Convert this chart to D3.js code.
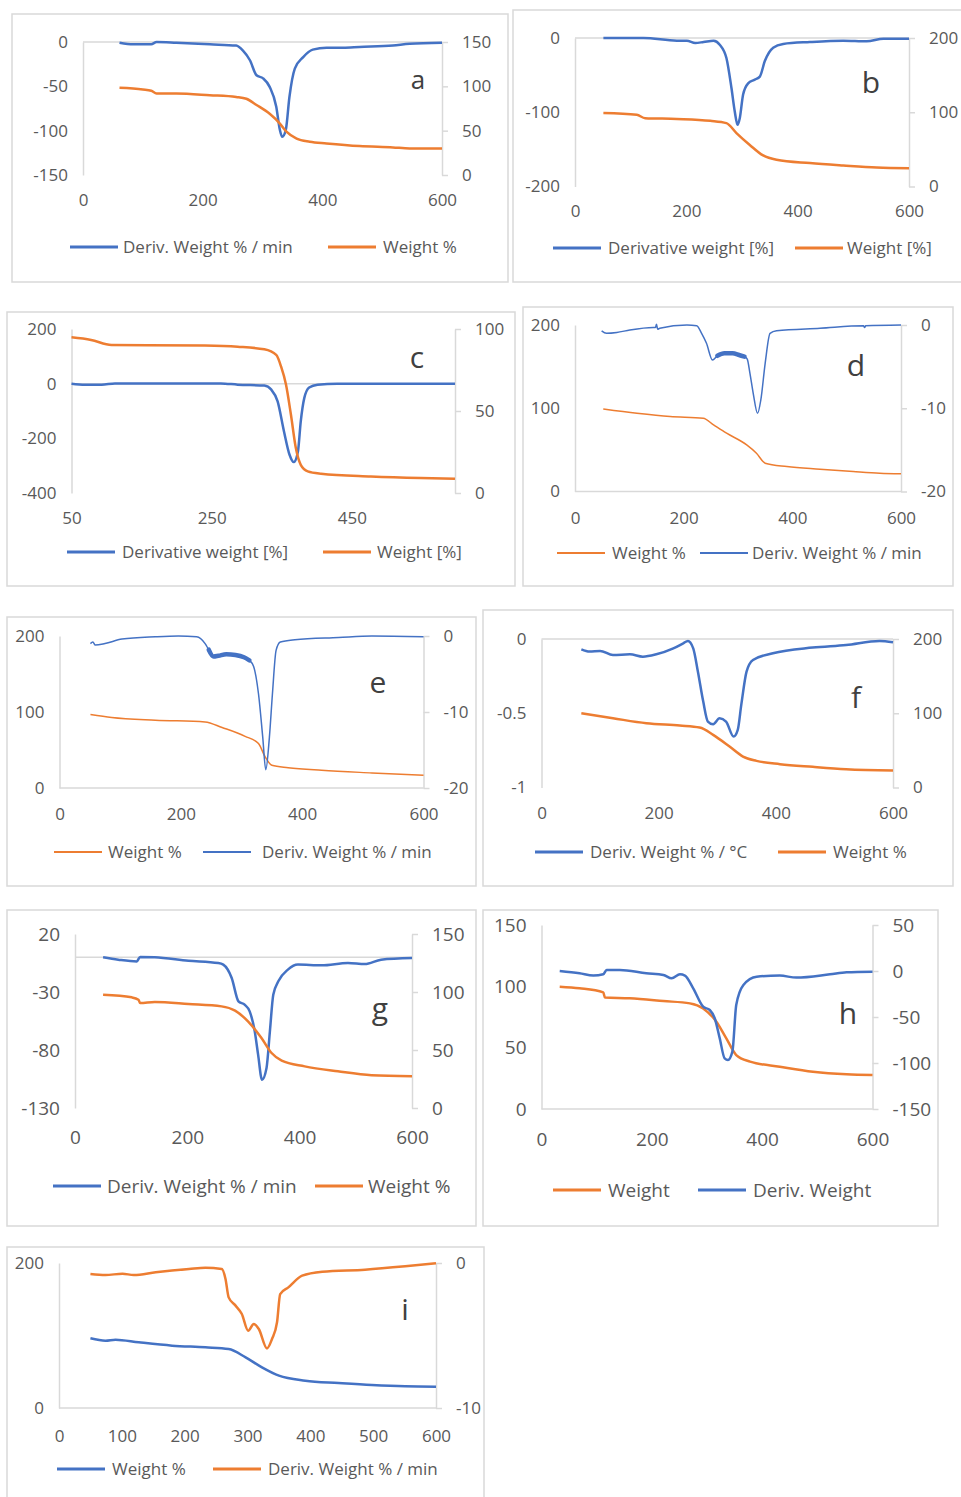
<!DOCTYPE html>
<html>
<head>
<meta charset="utf-8">
<script src="https://cdn.jsdelivr.net/npm/d3@7"></script>
<style>
  body { margin: 0; background: #fff; }
  svg { display: block; font-family: "Open Sans", sans-serif; }
</style>
</head>
<body>
<svg id="chart" width="961" height="1497"></svg>
<script>
const BLUE = "#4472C4";
const ORANGE = "#ED7D31";
const GRID = "#D9D9D9";
const INK = "#595959";

// [temperature, value] pairs
const aDeriv = [[61,-0.8],[84,-2.6],[114,-2.6],[123,0],[156,-0.8],[212,-2.6],[256,-4],[267,-9.4],[279,-20.6],[290,-37.5],[301,-41],[312,-50.6],[323,-73],[329,-99],[333,-107],[339,-99],[345,-62],[354,-30],[368,-17],[384,-8.6],[407,-6.4],[435,-6.4],[462,-5.6],[518,-4],[546,-1.9],[600,-0.8]];
const aWeight = [[61,98.3],[100,96.4],[114,95],[123,91.9],[156,91.9],[212,90],[256,88],[273,86],[290,79],[312,69],[329,58],[340,48.8],[357,41],[379,37.5],[407,35.6],[462,32.6],[518,31.1],[546,30],[600,30]];

const bDeriv = [[51,0],[123,0],[183,-3.6],[201,-3.6],[216,-6.7],[231,-5.4],[249,-3.6],[260,-9],[272,-27],[281,-67],[287,-99],[292,-117],[296,-108],[302,-76],[311,-61],[323,-56],[332,-52],[341,-31],[356,-13],[374,-8],[422,-5.4],[482,-3.6],[524,-4.5],[554,-0.9],[600,-0.9]];
const bWeight = [[51,98.9],[111,96.6],[126,92],[183,91],[243,88.5],[272,85.4],[290,72],[314,56],[338,41.8],[362,36],[422,31.5],[482,28.3],[542,25.6],[600,24.7]];

const cDeriv = [[50,0],[69,-3.6],[93,-3.6],[112,1],[263,1],[287,-3.6],[325,-7],[335,-22],[344,-65],[353,-174],[361,-260],[367,-287],[373,-248],[377,-138],[382,-53],[389,-14],[401,-3.6],[429,0],[524,0],[597,0]];
const cWeight = [[50,94.9],[78,93.3],[107,90.3],[240,89.9],[287,89.2],[325,87.6],[342,84.2],[349,77],[356,66],[363,47.7],[370,27.4],[377,17.2],[387,13.2],[406,11.8],[477,10.1],[548,9.1],[597,8.7]];

const dWeight = [[52,99.2],[114,94],[175,90],[236,88],[255,80],[279,70],[316,56],[334,46],[350,34],[390,30],[451,26.8],[512,24],[561,22],[600,21.2]];
const dDeriv = [[49,-0.7],[58,-1],[77,-0.9],[101,-0.6],[144,-0.3],[148,-0.3],[150,0.1],[152,-0.5],[156,-0.4],[206,0],[224,-0.1],[233,-1],[242,-2.2],[253,-4.2],[262,-3.7],[275,-3.4],[290,-3.4],[302,-3.6],[312,-3.8],[317,-4.1],[322,-5.8],[328,-8.2],[336,-10.6],[342,-9],[350,-4.6],[359,-1],[371,-0.7],[451,-0.4],[531,-0.1],[533,-0.3],[535,-0.1],[600,0]];

const eWeight = [[51,96.7],[86,92.7],[158,89.2],[240,87],[268,79.6],[306,68],[328,58.5],[339,40.9],[350,29.9],[377,26.8],[432,23.3],[515,19.8],[600,16.7]];
const eDeriv = [[51,-1],[55,-0.8],[59,-1.2],[75,-1],[103,-0.4],[158,-0.1],[196,0],[226,-0.1],[240,-1],[246,-1.8],[254,-2.7],[262,-2.6],[275,-2.4],[290,-2.5],[304,-2.8],[313,-3.2],[320,-4],[328,-7.6],[335,-13.3],[340,-17.6],[346,-13.3],[351,-7.6],[357,-1.9],[364,-0.8],[388,-0.5],[460,-0.2],[515,0],[600,-0.1]];

const fDeriv = [[68,-0.07],[82,-0.085],[100,-0.08],[122,-0.108],[151,-0.103],[173,-0.119],[196,-0.103],[225,-0.063],[242,-0.029],[250,-0.013],[259,-0.063],[267,-0.22],[276,-0.42],[284,-0.556],[293,-0.574],[304,-0.534],[315,-0.556],[328,-0.657],[335,-0.612],[341,-0.444],[350,-0.22],[361,-0.141],[395,-0.096],[463,-0.058],[520,-0.04],[577,-0.013],[600,-0.022]];
const fWeight = [[68,100],[122,93.3],[179,86.5],[236,83.4],[270,80.7],[293,70.9],[321,55.2],[344,41.7],[367,35.9],[407,31.4],[463,27.8],[520,24.7],[600,22.9]];

const gDeriv = [[50,-0.1],[77,-2.1],[110,-3.6],[116,0.2],[142,-0.1],[202,-3],[255,-5],[264,-6.4],[279,-17.9],[291,-38],[302,-40.9],[311,-46.7],[320,-63.9],[326,-84],[333,-105.6],[341,-95.5],[347,-63.9],[353,-32.3],[362,-20.8],[379,-10.7],[397,-6.4],[439,-7],[486,-5],[516,-5.9],[545,-2.1],[600,-0.7]];
const gWeight = [[50,97.7],[101,95.4],[113,93.4],[116,90.5],[142,91.4],[202,89.7],[261,87.6],[285,83.9],[308,74.7],[332,60.3],[350,47.4],[368,40.8],[409,35.9],[468,31.6],[528,28.2],[600,27.3]];

const hWeight = [[33,99.7],[69,98.4],[112,95.1],[115,90.8],[160,90.2],[221,88],[269,86.1],[293,82],[317,71.2],[335,57.6],[353,44],[378,38.6],[432,34.5],[492,30.4],[553,28.3],[600,27.7]];
const hDeriv = [[33,0],[69,-2.5],[94,-5],[112,-3.6],[118,1.1],[142,1.1],[190,-2.5],[221,-4.3],[236,-8],[251,-3.6],[260,-5],[275,-18.8],[293,-38.8],[305,-42.4],[314,-51.4],[323,-73],[332,-95],[338,-96.7],[346,-87.7],[353,-37],[366,-15.2],[390,-6.2],[432,-5],[462,-7.2],[523,-3.6],[553,-1.4],[600,-0.7]];

const iWeight = [[50,96.1],[74,92.9],[90,94.3],[127,90.6],[180,86],[233,83.7],[270,81.4],[297,69.9],[323,56.1],[350,44.6],[392,37.7],[445,34.5],[498,31.7],[551,29.9],[600,29.4]];
const iDeriv = [[50,-0.76],[74,-0.83],[101,-0.74],[119,-0.83],[154,-0.64],[207,-0.41],[233,-0.32],[259,-0.41],[265,-1.1],[270,-2.37],[281,-2.94],[291,-3.52],[301,-4.67],[310,-4.2],[318,-4.55],[331,-5.89],[339,-5.24],[347,-4.09],[352,-2.14],[365,-1.68],[387,-0.87],[419,-0.6],[487,-0.46],[551,-0.23],[600,-0.02]];

const xTicks = [0, 200, 400, 600];
const xTicksC = [50, 250, 450];
const xTicksI = [0, 100, 200, 300, 400, 500, 600];

// layout of each small chart: box, plot [x0, x1, yTop, yBottom], axes, legend slots
const panels = [
    { letter: "a", box: [12, 14, 496, 268], plot: [83, 442, 42, 175], x: [0, 600], xTicks: xTicks,
      left: [-150, 0], leftTicks: [-150, -100, -50, 0], right: [0, 150], rightTicks: [0, 50, 100, 150],
      series: [
          { data: aDeriv, axis: "left", color: BLUE, name: "Deriv. Weight % / min", legend: [70, 123] },
          { data: aWeight, axis: "right", color: ORANGE, name: "Weight %", legend: [328, 383] }],
      legendY: 247, labelOffset: 25, letterAt: [418, 80], letterSize: 26, font: 17, width: 2.5 },
    { letter: "b", box: [513, 10, 452, 272], plot: [575, 909, 38, 186.5], x: [0, 600], xTicks: xTicks,
      left: [-200, 0], leftTicks: [-200, -100, 0], right: [0, 200], rightTicks: [0, 100, 200],
      series: [
          { data: bDeriv, axis: "left", color: BLUE, name: "Derivative weight [%]", legend: [553, 608] },
          { data: bWeight, axis: "right", color: ORANGE, name: "Weight [%]", legend: [795, 847] }],
      legendY: 248, labelOffset: 24, letterAt: [871, 82], letterSize: 30, font: 17, width: 2.5 },
    { letter: "c", box: [7, 312, 508, 274], plot: [71.5, 455, 329, 493], x: [50, 597], xTicks: xTicksC,
      left: [-400, 200], leftTicks: [-400, -200, 0, 200], right: [0, 100], rightTicks: [0, 50, 100],
      series: [
          { data: cDeriv, axis: "left", color: BLUE, name: "Derivative weight [%]", legend: [67, 122] },
          { data: cWeight, axis: "right", color: ORANGE, name: "Weight [%]", legend: [323, 377] }],
      legendY: 552, labelOffset: 25, letterAt: [417, 357], letterSize: 30, font: 17, width: 2.5 },
    { letter: "d", box: [523, 307, 430, 279], plot: [575, 901, 325, 491.5], x: [0, 600], xTicks: xTicks,
      left: [0, 200], leftTicks: [0, 100, 200], right: [-20, 0], rightTicks: [-20, -10, 0],
      series: [
          { data: dWeight, axis: "left", color: ORANGE, name: "Weight %", legend: [557, 612] },
          { data: dDeriv, axis: "right", color: BLUE, name: "Deriv. Weight % / min", legend: [700, 752], rough: [256, 316] }],
      legendY: 553, labelOffset: 26.5, letterAt: [856, 365], letterSize: 30, font: 17, width: 1.5 },
    { letter: "e", box: [7, 617, 469, 269], plot: [59.5, 423.5, 636, 788], x: [0, 600], xTicks: xTicks,
      left: [0, 200], leftTicks: [0, 100, 200], right: [-20, 0], rightTicks: [-20, -10, 0],
      series: [
          { data: eWeight, axis: "left", color: ORANGE, name: "Weight %", legend: [54, 108] },
          { data: eDeriv, axis: "right", color: BLUE, name: "Deriv. Weight % / min", legend: [203, 262], rough: [244, 318] }],
      legendY: 852, labelOffset: 26, letterAt: [378, 682], letterSize: 30, font: 17, width: 1.5 },
    { letter: "f", box: [483, 610, 470, 276], plot: [541.5, 893, 639, 787.5], x: [0, 600], xTicks: xTicks,
      left: [-1, 0], leftTicks: [-1, -0.5, 0], right: [0, 200], rightTicks: [0, 100, 200],
      series: [
          { data: fDeriv, axis: "left", color: BLUE, name: "Deriv. Weight % / °C", legend: [535, 590] },
          { data: fWeight, axis: "right", color: ORANGE, name: "Weight %", legend: [778, 833] }],
      legendY: 852, labelOffset: 25, letterAt: [856, 697], letterSize: 30, font: 17, width: 2.5 },
    { letter: "g", box: [7, 910, 469, 316], plot: [75, 412, 934, 1108], x: [0, 600], xTicks: xTicks,
      left: [-130, 20], leftTicks: [-130, -80, -30, 20], right: [0, 150], rightTicks: [0, 50, 100, 150],
      series: [
          { data: gDeriv, axis: "left", color: BLUE, name: "Deriv. Weight % / min", legend: [53, 107] },
          { data: gWeight, axis: "right", color: ORANGE, name: "Weight %", legend: [315, 368] }],
      legendY: 1186, labelOffset: 29, letterAt: [380, 1008], letterSize: 30, font: 19, width: 2.5 },
    { letter: "h", box: [483, 910, 455, 316], plot: [541.5, 872.5, 925, 1109], x: [0, 600], xTicks: xTicks,
      left: [0, 150], leftTicks: [0, 50, 100, 150], right: [-150, 50], rightTicks: [-150, -100, -50, 0, 50],
      series: [
          { data: hWeight, axis: "left", color: ORANGE, name: "Weight", legend: [553, 608] },
          { data: hDeriv, axis: "right", color: BLUE, name: "Deriv. Weight", legend: [698, 753] }],
      legendY: 1190, labelOffset: 30, letterAt: [848, 1013], letterSize: 30, font: 19, width: 2.5 },
    { letter: "i", box: [7, 1247, 477, 262], plot: [59, 436, 1263, 1408], x: [0, 600], xTicks: xTicksI,
      left: [0, 200], leftTicks: [0, 200], right: [-10, 0], rightTicks: [-10, 0],
      series: [
          { data: iWeight, axis: "left", color: BLUE, name: "Weight %", legend: [57, 112] },
          { data: iDeriv, axis: "right", color: ORANGE, name: "Deriv. Weight % / min", legend: [213, 268] }],
      legendY: 1469, labelOffset: 28, letterAt: [405, 1309], letterSize: 30, font: 17, width: 2.5 }
];

const svg = d3.select("#chart");

function styleAxis(sel, font) {
    sel.attr("font-family", null).attr("font-size", null);
    sel.select(".domain").attr("stroke", GRID).attr("stroke-width", 1.5);
    sel.selectAll(".tick line").attr("stroke", GRID).attr("stroke-width", 1.5);
    sel.selectAll(".tick text").attr("fill", INK).style("font-size", font + "px");
}

panels.forEach(p => {
    const g = svg.append("g").attr("class", "panel-" + p.letter);
    const [bx, by, bw, bh] = p.box;
    const [x0, x1, yT, yB] = p.plot;

    g.append("rect")
        .attr("x", bx).attr("y", by)
        .attr("width", bw).attr("height", bh)
        .attr("fill", "#fff")
        .attr("stroke", GRID)
        .attr("stroke-width", 1.5);

    const x = d3.scaleLinear().domain(p.x).range([x0, x1]);
    const yL = d3.scaleLinear().domain(p.left).range([yB, yT]);
    const yR = d3.scaleLinear().domain(p.right).range([yB, yT]);

    // category labels sit at the bottom, the axis line crosses at left = 0
    const xAxis = g.append("g")
        .attr("transform", `translate(0,${yB})`)
        .call(d3.axisBottom(x).tickValues(p.xTicks).tickSize(0)
            .tickPadding(p.labelOffset - 0.35 * p.font).tickFormat(String));
    xAxis.select(".domain").remove();
    styleAxis(xAxis, p.font);

    g.append("line")
        .attr("x1", x0).attr("x2", x1)
        .attr("y1", yL(0)).attr("y2", yL(0))
        .attr("stroke", GRID)
        .attr("stroke-width", 1.5);

    const leftAxis = g.append("g")
        .attr("transform", `translate(${x0},0)`)
        .call(d3.axisLeft(yL).tickValues(p.leftTicks).tickSize(0).tickPadding(15).tickFormat(String));
    styleAxis(leftAxis, p.font);

    const rightAxis = g.append("g")
        .attr("transform", `translate(${x1},0)`)
        .call(d3.axisRight(yR).tickValues(p.rightTicks).tickSizeInner(6).tickSizeOuter(0)
            .tickPadding(14).tickFormat(String));
    styleAxis(rightAxis, p.font);

    p.series.forEach(s => {
        const y = s.axis === "left" ? yL : yR;
        const line = d3.line()
            .x(d => x(d[0]))
            .y(d => y(d[1]))
            .curve(d3.curveMonotoneX);

        g.append("path")
            .datum(s.data)
            .attr("d", line)
            .attr("fill", "none")
            .attr("stroke", s.color)
            .attr("stroke-width", p.width)
            .attr("stroke-linejoin", "round");

        // noisy stretch of the signal shows as a thicker band
        if (s.rough) {
            g.append("path")
                .datum(s.data.filter(d => d[0] >= s.rough[0] && d[0] <= s.rough[1]))
                .attr("d", line)
                .attr("fill", "none")
                .attr("stroke", s.color)
                .attr("stroke-width", 4.5)
                .attr("stroke-linecap", "round");
        }

        g.append("line")
            .attr("x1", s.legend[0]).attr("x2", s.legend[0] + 48)
            .attr("y1", p.legendY).attr("y2", p.legendY)
            .attr("stroke", s.color)
            .attr("stroke-width", p.width + 0.5);

        g.append("text")
            .attr("x", s.legend[1])
            .attr("y", p.legendY)
            .attr("dy", "0.35em")
            .attr("fill", INK)
            .style("font-size", p.font + "px")
            .text(s.name);
    });

    g.append("text")
        .attr("x", p.letterAt[0])
        .attr("y", p.letterAt[1])
        .attr("dy", "0.35em")
        .attr("text-anchor", "middle")
        .attr("fill", "#404040")
        .style("font-size", p.letterSize + "px")
        .text(p.letter);
});
</script>
</body>
</html>
